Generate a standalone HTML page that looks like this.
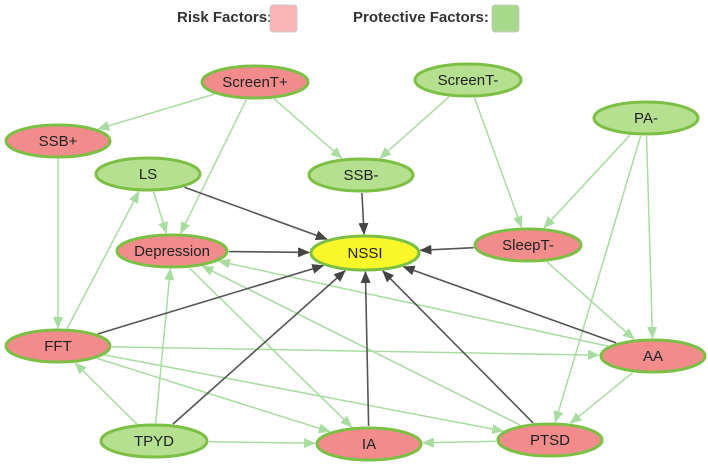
<!DOCTYPE html>
<html><head><meta charset="utf-8"><style>
html,body{margin:0;padding:0;background:#fff;}
svg{display:block;font-family:"Liberation Sans",sans-serif;}
</style></head><body>
<svg id="s" width="708" height="471" viewBox="0 0 708 471" xmlns="http://www.w3.org/2000/svg">
<defs>
<marker id="ag" markerWidth="12" markerHeight="10" refX="11" refY="5" orient="auto" markerUnits="userSpaceOnUse"><path d="M0,0 L12,5 L0,10 z" fill="#a8dca0"/></marker>
<marker id="ad" markerWidth="12" markerHeight="10" refX="11" refY="5" orient="auto" markerUnits="userSpaceOnUse"><path d="M0,0 L12,5 L0,10 z" fill="#444"/></marker>
</defs>
<text x="177" y="22" font-size="15" font-weight="bold" fill="#333">Risk Factors:</text>
<rect x="270" y="5" width="27" height="27" rx="3" fill="#f9b5b5" stroke="#ccc"/>
<text x="353" y="22" font-size="15" font-weight="bold" fill="#333">Protective Factors:</text>
<rect x="492" y="5" width="27" height="27" rx="3" fill="#a6d98a" stroke="#ccc"/>
<g id="edges"></g>
<g id="nodes"></g>
</svg>
<script>
var N={
"ScreenT+":[255,82,53,16,"r"],"ScreenT-":[468,80,53,16,"g"],"PA-":[646,118,52,16,"g"],
"SSB+":[58,141,52,16,"r"],"LS":[148,174,52,16,"g"],"SSB-":[361,175,52,16,"g"],
"Depression":[172,251,55,16,"r"],"NSSI":[365,253,54,17,"y"],"SleepT-":[528,245,53,16,"r"],
"FFT":[58,346,52,16,"r"],"AA":[653,356,52,16,"r"],"TPYD":[154,441,53,16,"g"],
"IA":[369,444,52,16,"r"],"PTSD":[550,440,52,16,"r"]};
var G=[["ScreenT+","SSB+"],["ScreenT+","Depression"],["ScreenT+","SSB-"],["ScreenT-","SSB-"],["ScreenT-","SleepT-"],
["PA-","SleepT-"],["PA-","PTSD"],["PA-","AA"],["SSB+","FFT"],["LS","Depression"],["FFT","LS"],["FFT","AA"],["FFT","IA"],["FFT","PTSD"],
["TPYD","FFT"],["TPYD","Depression"],["TPYD","IA"],["Depression","IA"],["AA","Depression"],["PTSD","Depression"],["SleepT-","AA"],["AA","PTSD"],["PTSD","IA"]];
var D=["LS","SSB-","Depression","SleepT-","FFT","TPYD","IA","PTSD","AA"];
function clip(n,dx,dy){var a=n[2]+2,b=n[3]+2;var t=1/Math.sqrt(dx*dx/(a*a)+dy*dy/(b*b));return [n[0]+dx*t,n[1]+dy*t];}
var E=document.getElementById("edges"),ns="http://www.w3.org/2000/svg";
function line(a,b,dark){var A=N[a],B=N[b],dx=B[0]-A[0],dy=B[1]-A[1];var p=clip(A,dx,dy),q=clip(B,-dx,-dy);
var l=document.createElementNS(ns,"line");l.setAttribute("x1",p[0]);l.setAttribute("y1",p[1]);l.setAttribute("x2",q[0]);l.setAttribute("y2",q[1]);
l.setAttribute("stroke",dark?"#555":"#a8dca0");l.setAttribute("stroke-width",dark?"1.6":"1.5");l.setAttribute("marker-end",dark?"url(#ad)":"url(#ag)");E.appendChild(l);}
G.forEach(function(e){line(e[0],e[1],false);});
D.forEach(function(s){line(s,"NSSI",true);});
var V=document.getElementById("nodes");
for(var k in N){var n=N[k];var e=document.createElementNS(ns,"ellipse");e.setAttribute("cx",n[0]);e.setAttribute("cy",n[1]);e.setAttribute("rx",n[2]);e.setAttribute("ry",n[3]);
e.setAttribute("fill",n[4]=="r"?"#f28b8b":n[4]=="g"?"#b5e08f":"#f7f72a");e.setAttribute("stroke","#7cbf45");e.setAttribute("stroke-width","3");V.appendChild(e);
var t=document.createElementNS(ns,"text");t.setAttribute("x",n[0]);t.setAttribute("y",n[1]+5);t.setAttribute("text-anchor","middle");t.setAttribute("font-size","15");t.setAttribute("fill","#222");t.textContent=k;V.appendChild(t);}
</script>
</body></html>
